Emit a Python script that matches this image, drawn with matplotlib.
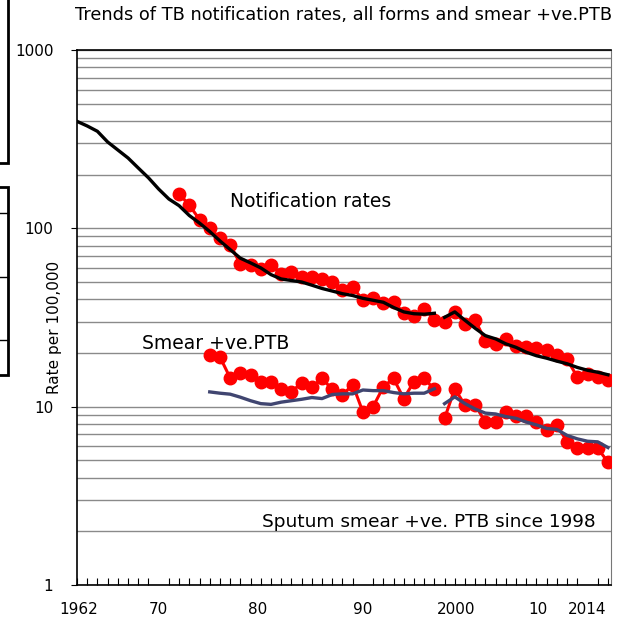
import matplotlib.pyplot as plt
from matplotlib.patches import Rectangle
from matplotlib.lines import Line2D

# All forms, trend line (break in 1998 definition change)
years_all_a = list(range(1962, 1998))
rate_all_a = [398, 375, 350, 305, 275, 248, 218, 192, 166, 146,
              134, 118, 107, 96, 85, 76, 68, 64, 60, 55,
              52, 51, 50, 48, 46, 44.5, 43, 42, 40.5, 39.5,
              38.5, 36, 34, 33.2, 33, 33.4]
years_all_b = list(range(1998, 2015))
rate_all_b = [31.7, 34, 30.5, 27.5, 25, 24, 22.5, 21.5, 20.2, 19.3,
              18.7, 18, 17.4, 16.6, 16, 15.6, 15.1]

# Notification rates (red dots)
years_notif = list(range(1972, 2015))
rate_notif = [156, 135, 112, 100, 88, 81, 63, 62.5, 59.5, 62,
              55.7, 56.9, 53.3, 53.3, 51.8, 50, 45, 46.9, 39.5, 40.9,
              38.2, 38.6, 33.6, 32.3, 35.5, 30.8, 29.9, 34, 29.2, 30.5,
              23.4, 22.6, 24.1, 21.8, 21.6, 21.2, 20.9, 19.4, 18.4, 14.7,
              15.2, 14.7, 14.1]

# Smear +ve PTB (red dots), two periods
years_smear_a = list(range(1975, 1998))
rate_smear_a = [19.4, 19.0, 14.5, 15.5, 15.1, 13.8, 13.7, 12.6, 12.1, 13.6,
                12.9, 14.4, 12.5, 11.6, 13.3, 9.35, 10.0, 12.9, 14.4, 11.1,
                13.8, 14.4, 12.5]
years_smear_b = list(range(1998, 2015))
rate_smear_b = [8.6, 12.6, 10.2, 10.2, 8.2, 8.2, 9.35, 8.85, 8.85, 8.2,
                7.4, 7.9, 6.35, 5.9, 5.83, 5.83, 4.9]

# Smear +ve trend (navy line)
trend_smear_a = [12.1, 11.9, 11.75, 11.3, 10.8, 10.4, 10.3, 10.6, 10.8, 11.0,
                 11.25, 11.1, 11.7, 11.8, 11.8, 12.4, 12.3, 12.3, 12.0, 11.8,
                 11.9, 11.9, 12.6]
trend_smear_b = [10.4, 11.35, 10.4, 9.7, 9.2, 9.1, 8.8, 8.6, 8.2, 7.9,
                 7.55, 7.45, 6.9, 6.6, 6.4, 6.35, 5.9]

xtick_pos = [1962.2, 1970, 1979.7, 1990, 1999.1, 2007.1, 2012]
xtick_labels = ["1962", "70", "80", "90", "2000", "10", "2014"]

fig = plt.figure(figsize=(6.3, 6.2), dpi=100)
ax = fig.add_axes([77 / 630, 1 - 585 / 620, (611 - 77) / 630, (585 - 50) / 620])

red = "#ff0000"
navy = "#404570"

ax.plot(years_notif, rate_notif, color=red, lw=2.2, marker="o", ms=9, zorder=3)
ax.plot(years_smear_a, rate_smear_a, color=red, lw=2.2, marker="o", ms=9, zorder=3)
ax.plot(years_smear_b, rate_smear_b, color=red, lw=2.2, marker="o", ms=9, zorder=3)
ax.plot(years_all_a, rate_all_a, color="black", lw=2.4, zorder=4)
ax.plot(years_all_b, rate_all_b, color="black", lw=2.4, zorder=4)
ax.plot(years_smear_a, trend_smear_a, color=navy, lw=2.4, zorder=4)
ax.plot(years_smear_b, trend_smear_b, color=navy, lw=2.4, zorder=4)

ax.set_yscale("log")
ax.set_ylim(1, 1000)
ax.set_xlim(1962, 2014.3)

# horizontal grid at every log step
ax.yaxis.grid(True, which="both", color="#8a8a8a", lw=1)
ax.set_axisbelow(True)
ax.set_yticks([1, 10, 100, 1000])
ax.set_yticklabels(["1", "10", "100", "1000"])
ax.tick_params(axis="y", which="major", length=4, pad=13, labelsize=11)
ax.tick_params(axis="y", which="minor", length=0)

ax.set_xticks(xtick_pos)
ax.set_xticklabels(xtick_labels)
ax.set_xticks(range(1962, 2015), minor=True)
ax.tick_params(axis="x", which="major", length=0, pad=12, labelsize=11)
ax.tick_params(axis="x", which="minor", direction="in", length=5, width=0.8)

for s in ["left", "bottom", "top"]:
    ax.spines[s].set_color("black")
    ax.spines[s].set_linewidth(1.2)
ax.spines["right"].set_color("#777777")

ax.text(1977.0, 141, "Notification rates", fontsize=13.5, va="center", ha="left")
ax.text(1968.4, 22.5, "Smear +ve.PTB", fontsize=13.5, va="center", ha="left")
ax.text(1980.1, 2.27, "Sputum smear +ve. PTB since 1998", fontsize=13.3, va="center", ha="left")

fig.text(0.545, 1 - 15 / 620, "Trends of TB notification rates, all forms and smear +ve.PTB",
         fontsize=12.8, ha="center", va="center")
fig.text(55 / 630, 1 - 327 / 620, "Rate per 100,000", rotation=90, fontsize=11,
         ha="center", va="center")

# cut-off boxes at the left edge of the original picture
fig.add_artist(Rectangle((-20 / 630, 1 - 163 / 620), 28 / 630, 183 / 620,
                         transform=fig.transFigure, fill=False, lw=2, ec="black"))
fig.add_artist(Rectangle((-20 / 630, 1 - 375 / 620), 28 / 630, 188 / 620,
                         transform=fig.transFigure, fill=False, lw=2, ec="black"))
for yy in [213, 277, 340]:
    fig.add_artist(Line2D([0, 8 / 630], [1 - yy / 620, 1 - yy / 620],
                          transform=fig.transFigure, color="black", lw=1))

fig.savefig("out.png", dpi=100)
